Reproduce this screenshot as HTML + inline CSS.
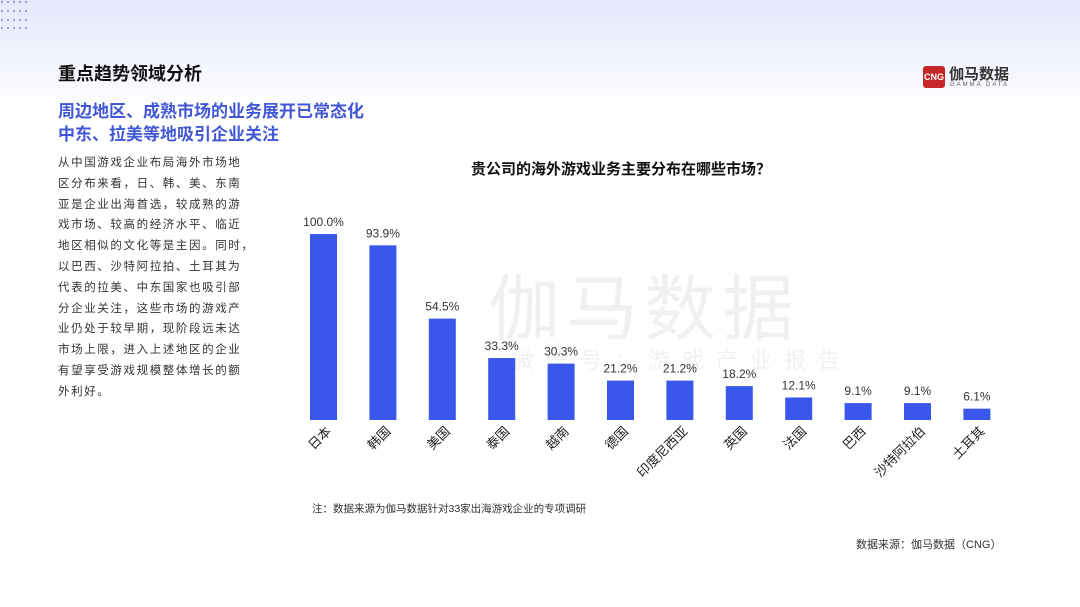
<!DOCTYPE html>
<html><head><meta charset="utf-8"><style>
body{margin:0;width:1080px;height:607px;overflow:hidden;background:#fff;font-family:"Liberation Sans","Noto Sans CJK SC",sans-serif;position:relative}
.bg{position:absolute;left:0;top:0;width:1080px;height:110px;background:linear-gradient(#e4e8fb,#fff)}
.a{position:absolute;white-space:nowrap}
</style></head><body>
<div class="bg"></div>
<svg class="a" style="left:0;top:0" width="50" height="36">
<g fill="#7d8ad8">
<circle cx="2" cy="2" r="1"/><circle cx="8" cy="2" r="1"/><circle cx="14" cy="2" r="1"/><circle cx="20" cy="2" r="1"/><circle cx="26" cy="2" r="1"/>
<circle cx="2" cy="11" r="1"/><circle cx="8" cy="11" r="1"/><circle cx="14" cy="11" r="1"/><circle cx="20" cy="11" r="1"/><circle cx="26" cy="11" r="1"/>
<circle cx="2" cy="20" r="1"/><circle cx="8" cy="20" r="1"/><circle cx="14" cy="20" r="1"/><circle cx="20" cy="20" r="1"/><circle cx="26" cy="20" r="1"/>
<circle cx="2" cy="28" r="1"/><circle cx="8" cy="28" r="1"/><circle cx="14" cy="28" r="1"/><circle cx="20" cy="28" r="1"/><circle cx="26" cy="28" r="1"/>
</g></svg>
<div class="a" style="left:58px;top:60px;font-size:18px;font-weight:bold;color:#111">重点趋势领域分析</div>
<div class="a" style="left:923px;top:66px;width:22px;height:22px;background:#c62828;border-radius:3px;color:#fff;font-size:9px;font-weight:bold;line-height:22px;text-align:center">CNG</div>
<div class="a" style="left:949px;top:63px;font-size:15px;font-weight:bold;color:#333">伽马数据</div>
<div class="a" style="left:950px;top:82px;font-size:6px;letter-spacing:2px;color:#555">GAMMA DATA</div>
<div class="a" style="left:58px;top:100px;font-size:17px;font-weight:bold;color:#4257d6;line-height:23px">周边地区、成熟市场的业务展开已常态化<br>中东、拉美等地吸引企业关注</div>
<div class="a" style="left:58px;top:153px;font-size:11.5px;color:#333;line-height:20.8px;letter-spacing:1.6px">从中国游戏企业布局海外市场地<br>区分布来看，日、韩、美、东南<br>亚是企业出海首选，较成熟的游<br>戏市场、较高的经济水平、临近<br>地区相似的文化等是主因。同时，<br>以巴西、沙特阿拉拍、土耳其为<br>代表的拉美、中东国家也吸引部<br>分企业关注，这些市场的游戏产<br>业仍处于较早期，现阶段远未达<br>市场上限，进入上述地区的企业<br>有望享受游戏规模整体增长的额<br>外利好。</div>
<div class="a" style="left:471px;top:158px;font-size:15px;font-weight:bold;color:#111">贵公司的海外游戏业务主要分布在哪些市场？</div>
<div class="a" style="left:488px;top:250px;font-size:72px;color:rgba(0,0,0,0.06);letter-spacing:6px">伽马数据</div>
<div class="a" style="left:512px;top:343px;font-size:22px;color:rgba(0,0,0,0.06);letter-spacing:12px">微信号：游戏产业报告</div>
<svg class="a" style="left:0;top:0" width="1080" height="607" font-family="Liberation Sans,Noto Sans CJK SC,sans-serif">
<g id="bars" fill="#3a57ec"></g>
<g font-size="12" fill="#333" text-anchor="middle" id="vals"></g>
<g font-size="13" fill="#222" text-anchor="end" id="labs"></g>
</svg>
<div class="a" style="left:312px;top:501px;font-size:10.5px;color:#333">注：数据来源为伽马数据针对33家出海游戏企业的专项调研</div>
<div class="a" style="left:856px;top:536px;font-size:11px;color:#333">数据来源：伽马数据（CNG）</div>
<script>
var d=[["日本",100,"100.0%"],["韩国",93.9,"93.9%"],["美国",54.5,"54.5%"],["泰国",33.3,"33.3%"],["越南",30.3,"30.3%"],["德国",21.2,"21.2%"],["印度尼西亚",21.2,"21.2%"],["英国",18.2,"18.2%"],["法国",12.1,"12.1%"],["巴西",9.1,"9.1%"],["沙特阿拉伯",9.1,"9.1%"],["土耳其",6.1,"6.1%"]];
var ns="http://www.w3.org/2000/svg",b=document.getElementById("bars"),v=document.getElementById("vals"),l=document.getElementById("labs");
d.forEach(function(e,i){var x=310+i*59.4,h=e[1]*1.86,y=420-h;
var r=document.createElementNS(ns,"rect");r.setAttribute("x",x);r.setAttribute("y",y);r.setAttribute("width",27);r.setAttribute("height",h);b.appendChild(r);
var t=document.createElementNS(ns,"text");t.setAttribute("x",x+13.5);t.setAttribute("y",y-8);t.textContent=e[2];v.appendChild(t);
var s=document.createElementNS(ns,"text");s.setAttribute("transform","translate("+(x+22)+",432) rotate(-45)");s.textContent=e[0];l.appendChild(s);});
</script>
</body></html>
